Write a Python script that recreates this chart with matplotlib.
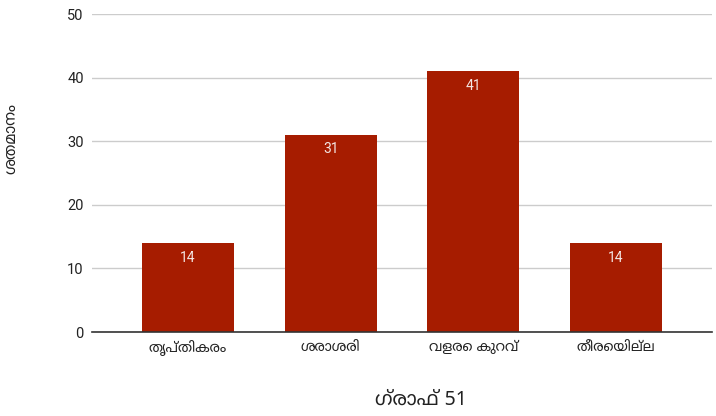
import matplotlib
matplotlib.use("Agg")
import matplotlib.pyplot as plt

categories = ["തൃപ്തികരം", "ശരാശരി", "വളരെ കുറവ്", "തീരെയില്ല"]
values = [14, 31, 41, 14]
yticks = [0, 10, 20, 30, 40, 50]
ylabel = "ശതമാനം"
xlabel = "ഗ്രാഫ് 51"

FAM = ["Noto Sans Malayalam", "Roboto", "DejaVu Sans"]
plt.rcParams["font.family"] = FAM

W, H = 716, 416
fig = plt.figure(figsize=(W / 100, H / 100), dpi=100)
ax = fig.add_axes([92 / W, (H - 332) / H, (712 - 92) / W, (332 - 14) / H])

x = list(range(len(categories)))
bars = ax.bar(x, values, width=0.645, color="#a61c00", zorder=3)
for b, v in zip(bars, values):
    ax.text(b.get_x() + b.get_width() / 2, v - 2.3, str(v), ha="center", va="center",
            color="#f3e6e3", fontsize=10, family=["Roboto", "DejaVu Sans"], zorder=4)

ax.set_xlim(-0.673, 3.673)
ax.set_ylim(0, 50)
ax.set_yticks(yticks)
ax.set_yticklabels([str(t) for t in yticks], family=["Roboto", "DejaVu Sans"], fontsize=10.5)
ax.set_xticks(x)
ax.set_xticklabels(categories, fontsize=10)
ax.tick_params(axis="both", length=0, labelcolor="#222222")
ax.tick_params(axis="y", pad=6)
ax.tick_params(axis="x", pad=6)
ax.grid(axis="y", color="#cccccc", linewidth=1, zorder=0)
for s in ["top", "right", "left"]:
    ax.spines[s].set_visible(False)
ax.spines["bottom"].set_color("#333333")
ax.spines["bottom"].set_linewidth(1.2)
ax.spines["bottom"].set_zorder(5)

fig.text(12 / W, 1 - 139 / H, ylabel, rotation=90, ha="center", va="center",
         fontsize=11, color="#222222")
fig.text(421 / W, 1 - 400 / H, xlabel, ha="center", va="center",
         fontsize=14, color="#222222")

fig.savefig("out.png", dpi=100)
